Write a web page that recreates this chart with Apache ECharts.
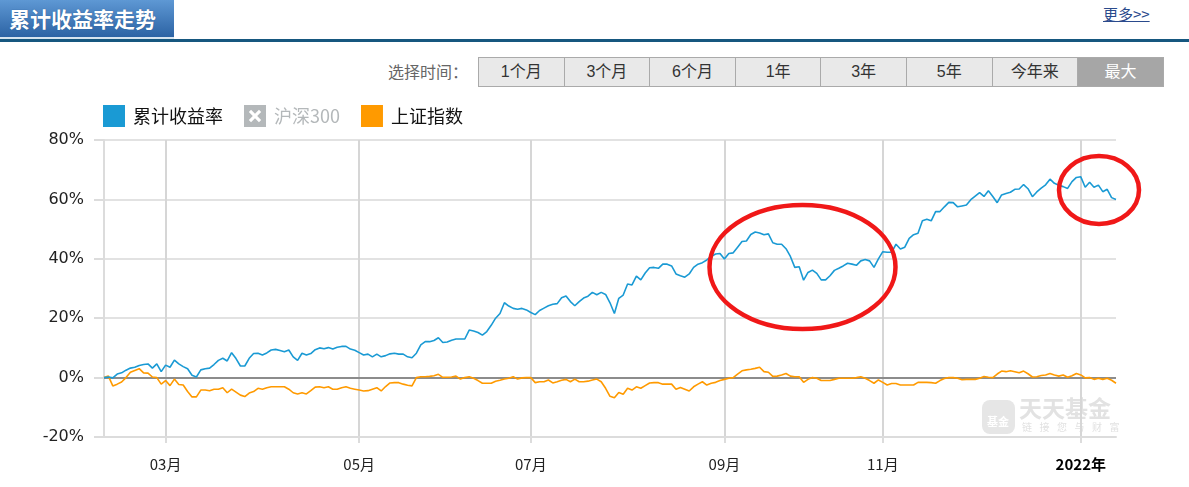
<!DOCTYPE html>
<html><head><meta charset="utf-8">
<script src="https://cdn.jsdelivr.net/npm/echarts@6/dist/echarts.min.js"></script>
<style>
body{margin:0;width:1189px;height:487px;overflow:hidden;background:#fff;font-family:"Noto Sans CJK SC",sans-serif;position:relative}
#tab{position:absolute;left:0;top:0;width:165px;height:37px;background:linear-gradient(#5e98d4,#2c63a4);border-bottom:2px solid #d6e4f0;color:#fff;font-weight:bold;font-size:21px;line-height:36px;padding-left:9px;box-sizing:content-box;text-shadow:0 0 1px #1d4d85;white-space:nowrap}
#bar{position:absolute;left:0;top:39px;width:1189px;height:3px;background:#16577f}
#more{position:absolute;left:1103px;top:3px;font-size:15px;color:#2a4a8c;text-decoration:underline}
#sel{position:absolute;left:388px;top:61px;font-size:16px;color:#666;line-height:20px}
#btns{position:absolute;left:478px;top:57px;display:flex;border:1px solid #aaa;border-left:none}
.b{width:84.6px;height:28px;line-height:28px;text-align:center;background:#e9e9e9;border-left:1px solid #aaa;font-size:16px;color:#333;font-family:"Liberation Sans","Noto Sans CJK SC",sans-serif}
.b.on{background:#a6a6a6;color:#fff}
#chart{position:absolute;left:0;top:0;width:1189px;height:487px}
</style></head>
<body>
<div id="tab">累计收益率走势</div>
<div id="bar"></div>
<div id="more">更多&gt;&gt;</div>
<div id="sel">选择时间：</div>
<div id="btns"><div class="b">1个月</div><div class="b">3个月</div><div class="b">6个月</div><div class="b">1年</div><div class="b">3年</div><div class="b">5年</div><div class="b">今年来</div><div class="b on">最大</div></div>
<div id="chart"></div>
<script>
// ---- data ----
const seriesNames = ['累计收益率', '沪深300', '上证指数'];
const startDate = '2021-02-02';
const endDate = '2022-01-14';
const marketHolidays = ['2021-02-11','2021-02-12','2021-02-15','2021-02-16','2021-02-17','2021-04-05','2021-05-03','2021-05-04','2021-05-05','2021-06-14','2021-09-20','2021-09-21','2021-10-01','2021-10-04','2021-10-05','2021-10-06','2021-10-07','2022-01-03'];
const yTicks = [-20, 0, 20, 40, 60, 80];

const fundReturn = [
0,0.2,-0.1,1.2,1.6,2.5,3.2,3.5,4.1,4.4,
4.6,3.2,4.6,2.0,4.2,3.5,5.9,4.6,3.7,3.0,
0.8,0.2,2.6,3.0,3.2,4.4,5.8,6.5,5.6,8.4,
6.4,3.9,3.9,6.5,8.1,8.2,7.6,8.3,9.3,9.5,
9.1,8.7,9.3,7.0,5.8,8.2,7.6,8.1,9.4,10.0,
9.7,10.1,9.6,10.2,10.5,10.5,9.6,9.2,8.4,7.6,
7.9,7.0,7.9,7.0,7.4,8.0,8.2,7.9,7.9,7.0,
6.7,8.2,11.0,12.1,12.1,12.5,13.4,11.8,12.0,12.6,
13.0,13.0,13.0,16.0,15.7,15.2,14.3,15.5,17.6,20.0,
21.6,25.2,24.1,23.3,23.0,23.3,22.8,21.9,21.2,22.6,
23.4,24.2,24.7,24.9,26.9,27.5,25.6,24.2,25.6,26.8,
27.4,28.7,27.9,28.7,28.0,25.2,21.6,26.7,27.8,31.5,
31.2,34.2,32.9,35.2,37.0,37.1,36.8,38.2,38.2,37.6,
34.9,34.3,33.8,34.9,37.1,38.2,38.7,39.6,40.8,41.6,
41.8,39.9,41.8,42.0,43.9,45.8,46.0,48.2,49.0,48.7,
48.1,48.4,45.4,44.9,44.9,43.4,40.8,37.1,37.3,32.8,
35.4,36.2,35.1,32.9,32.9,34.3,36.1,36.8,37.6,38.5,
38.2,37.8,39.3,39.8,39.3,37.1,40.0,42.4,42.2,42.2,
44.9,43.3,43.9,46.9,48.1,48.6,52.8,53.3,52.8,55.9,
55.9,57.5,59.0,58.9,57.5,57.8,58.1,59.9,61.1,62.3,
61.0,62.9,61.0,58.9,61.5,62.0,62.4,63.4,63.5,65.0,
63.6,60.9,62.5,63.8,64.9,66.8,65.4,64.8,64.3,63.7,
66.0,67.4,67.6,64.1,65.8,64.1,64.8,62.6,63.4,60.6,60.0
];
const hs300 = [];
const shIndex = [
0,0.5,-2.8,-2.2,-1.5,0.0,1.8,2.4,3.0,1.6,
1.5,0.2,0.0,-2.2,-1.0,-2.7,-0.5,-2.3,-2.5,-4.7,
-6.5,-6.5,-4.2,-4.2,-4.4,-3.9,-3.9,-3.4,-5.1,-3.9,
-4.9,-5.9,-6.4,-5.2,-4.7,-3.6,-3.9,-3.4,-3.1,-3.1,
-3.1,-3.1,-3.9,-5.1,-5.5,-5.1,-5.5,-4.4,-3.2,-3.1,
-3.4,-3.1,-3.9,-3.9,-3.4,-3.1,-3.6,-3.9,-4.2,-4.5,
-4.4,-3.9,-3.4,-4.5,-3.0,-1.8,-1.7,-1.7,-2.2,-2.6,
-2.8,0.0,0.3,0.3,0.4,0.6,1.1,0.1,0.1,0.2,
0.5,-0.5,0.0,0.3,-0.2,-1.0,-1.9,-1.9,-1.9,-1.2,
-0.9,-0.5,-0.2,0.3,-0.5,-0.1,0.0,0.0,-1.7,-1.4,
-1.4,-0.8,-1.8,-1.4,-0.9,-0.6,-1.4,-0.5,-1.4,-1.4,
-1.2,-0.8,-0.5,-1.4,-3.6,-6.3,-6.8,-5.0,-5.6,-3.6,
-4.2,-3.1,-3.6,-2.7,-1.8,-1.7,-1.7,-2.2,-2.2,-2.2,
-3.9,-3.3,-3.9,-4.5,-3.1,-2.2,-1.4,-2.5,-1.9,-1.6,
-1.0,-0.6,-0.2,0.0,1.2,2.3,2.6,2.8,3.1,3.5,
2.0,1.8,0.4,0.5,0.9,1.4,0.5,0.3,0.3,-1.6,
-0.6,0.0,-0.2,-1.0,-1.0,-1.0,-0.6,-0.2,-0.2,-0.2,
-0.2,0.0,0.3,-0.2,-1.0,-1.9,-0.8,-1.6,-2.5,-2.0,
-2.0,-2.5,-2.5,-2.5,-2.5,-1.6,-1.6,-1.6,-1.7,-1.9,
-1.0,-0.3,0.0,0.0,-0.2,-0.7,-0.6,-0.6,-0.6,-0.2,
0.4,0.1,0.0,1.2,2.2,2.0,2.3,2.0,1.6,2.2,
1.3,0.2,0.3,0.7,0.9,1.4,0.9,0.5,0.9,0.1,
0.6,1.4,0.9,-0.1,0.0,-0.6,-0.2,-0.6,-0.2,-0.9,-1.9
];

// trading-day categories
function buildDates(){
  const out=[]; const hol=new Set(marketHolidays);
  let d=new Date(startDate+'T00:00:00Z'); const end=new Date(endDate+'T00:00:00Z');
  while(d<=end){
    const wd=d.getUTCDay(); const s=d.toISOString().slice(0,10);
    if(wd!==0&&wd!==6&&!hol.has(s)) out.push(s);
    d=new Date(d.getTime()+86400000);
  }
  return out;
}
const categories = buildDates();
const tickIdx = new Set();
categories.forEach((c,i)=>{ if(i>0 && c.slice(5,7)!==categories[i-1].slice(5,7)){ const m=+c.slice(5,7); if(m%2===1) tickIdx.add(i);} });
const showTick = (i)=>tickIdx.has(i);

const chart = echarts.init(document.getElementById('chart'), null, {renderer:'canvas'});
const xPath = 'path://M0 0L100 0L100 100L0 100Z M22 32L40 50L22 68L32 78L50 60L68 78L78 68L60 50L78 32L68 22L50 40L32 22Z';
const wmChars = '链接您与财富'.split('');
chart.setOption({
  animation:false,
  color:['#1a9ad4','#c0c4c6','#ff9a00'],
  legend:{
    left:103, top:105, padding:0, itemWidth:22, itemHeight:22, itemGap:21,
    inactiveColor:'#b4b8ba',
    selected:{'沪深300':false},
    textStyle:{fontSize:18, color:'#111', fontFamily:'Noto Sans CJK SC', padding:[0,0,0,3]},
    data:[{name:seriesNames[0], icon:'rect'},{name:seriesNames[1], icon:xPath},{name:seriesNames[2], icon:'rect'}]
  },
  grid:{left:104, top:140, width:1012, height:297},
  xAxis:{
    type:'category', data:categories, boundaryGap:false,
    axisLine:{onZero:false, lineStyle:{color:'#dcdcdc', width:2}},
    axisTick:{interval:showTick, length:6, lineStyle:{color:'#dcdcdc', width:2}},
    splitLine:{show:true, interval:showTick, lineStyle:{color:'#d6d6d6', width:2}},
    axisLabel:{interval:showTick, margin:20, fontSize:15, color:'#222', fontFamily:'Noto Sans CJK SC',
      formatter:(v)=>{const m=v.slice(5,7); return m==='01' ? '{y|'+v.slice(0,4)+'年}' : m+'月';},
      rich:{y:{fontWeight:'bold', fontSize:15, color:'#000', fontFamily:'Noto Sans CJK SC'}}}
  },
  yAxis:{
    type:'value', min:yTicks[0], max:yTicks[yTicks.length-1], interval:20,
    axisLine:{show:true, lineStyle:{color:'#dcdcdc', width:2}},
    axisTick:{show:true, length:10, lineStyle:{color:'#dcdcdc', width:2}},
    splitLine:{lineStyle:{color:'#e2e2e2', width:2}},
    axisLabel:{formatter:'{value}%', margin:20, fontSize:16, color:'#222', fontFamily:'DejaVu Sans'}
  },
  series:[
    {name:seriesNames[0], type:'line', data:fundReturn, symbol:'none', z:4, lineStyle:{width:1.6, color:'#1a9ad4'},
     markLine:{silent:true, symbol:'none', label:{show:false}, lineStyle:{color:'#8c8c8c', width:2, type:'solid'}, data:[{yAxis:0}], z:1}},
    {name:seriesNames[1], type:'line', data:hs300, symbol:'none'},
    {name:seriesNames[2], type:'line', data:shIndex, symbol:'none', z:3, lineStyle:{width:1.6, color:'#ff9a00'}}
  ],
  graphic:[
    {type:'rect', left:982, top:400, shape:{width:33, height:34, r:8}, style:{fill:'#e6e6e6'}, z:0, silent:true},
    {type:'text', left:987, top:416, style:{text:'基金', fill:'#fff', font:'bold 11px "Noto Sans CJK SC"'}, z:0, silent:true},
    {type:'text', left:1019, top:397, style:{text:'天天基金', fill:'#e2e2e2', font:'bold 23px "Noto Sans CJK SC"'}, z:0, silent:true},
    ...wmChars.map((c,i)=>({type:'text', left:1022+i*17.5, top:422, style:{text:c, fill:'#e2e2e2', font:'10px "Noto Sans CJK SC"'}, z:0, silent:true})),
    {type:'ellipse', shape:{cx:802.5, cy:267, rx:93, ry:62}, style:{fill:'none', stroke:'#f01818', lineWidth:4.5}, z:100, silent:true},
    {type:'ellipse', shape:{cx:1099, cy:190, rx:40, ry:34}, style:{fill:'none', stroke:'#f01818', lineWidth:4.5}, z:100, silent:true}
  ]
});
</script>
</body></html>
